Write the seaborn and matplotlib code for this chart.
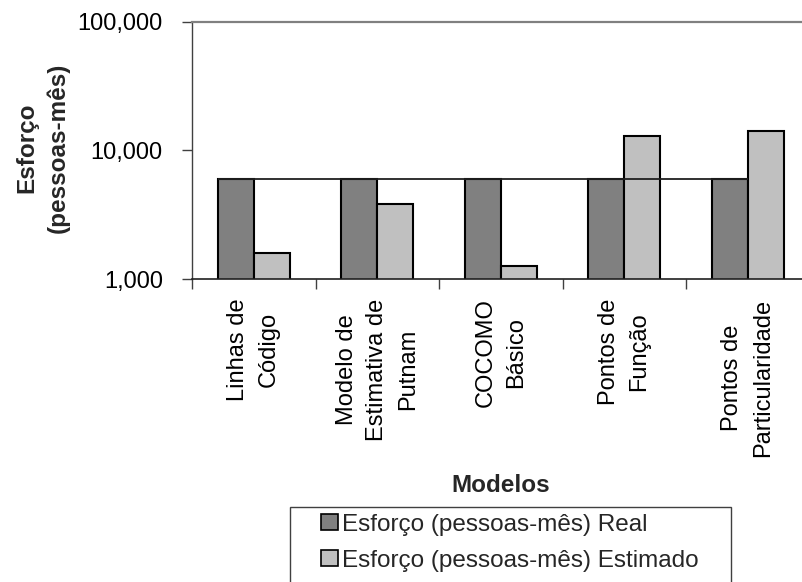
import matplotlib
matplotlib.use("Agg")
import matplotlib.pyplot as plt
import seaborn as sns
import pandas as pd
from matplotlib.patches import Patch, Rectangle
from matplotlib.ticker import FixedLocator, FixedFormatter, NullLocator

# ---- data ----
categories = ["Linhas de\nCódigo", "Modelo de\nEstimativa de\nPutnam", "COCOMO\nBásico",
              "Pontos de\nFunção", "Pontos de\nParticularidade"]
real = [6000, 6000, 6000, 6000, 6000]
estimado = [1600, 3830, 1260, 12900, 14200]
series = ["Esforço (pessoas-mês) Real", "Esforço (pessoas-mês) Estimado"]
colors = ["#808080", "#C0C0C0"]
yticks = [1000, 10000, 100000]
ytick_labels = ["1,000", "10,000", "100,000"]

df = pd.DataFrame({
    "Modelo": categories * 2,
    "Série": [series[0]] * len(categories) + [series[1]] * len(categories),
    "Esforço": real + estimado,
})

sns.set_theme(style="white")
plt.rcParams["font.family"] = ["Liberation Sans", "DejaVu Sans"]
FS_TICK = 17
FS_LAB = 17.5

fig = plt.figure(figsize=(8.02, 5.82), dpi=100)
ax = fig.add_axes([192 / 802, 1 - 279 / 582, 617.5 / 802, 257.3 / 582])

sns.barplot(data=df, x="Modelo", y="Esforço", hue="Série", order=categories,
            hue_order=series, palette=colors, saturation=1, width=0.58,
            edgecolor="black", linewidth=1.5, legend=False, ax=ax)
ax.set_yscale("log")
ax.set_ylim(yticks[0], yticks[-1])
ax.set_xlim(-0.5, len(categories) - 0.5)

# line across the tops of the "Real" bars
real_bars = ax.containers[0]
x0 = min(p.get_x() for p in real_bars)
x1 = max(p.get_x() + p.get_width() for p in real_bars)
ax.hlines(real[0], x0, x1, color="#202020", lw=1.3, zorder=3)

# y axis
ax.yaxis.set_major_locator(FixedLocator(yticks))
ax.yaxis.set_major_formatter(FixedFormatter(ytick_labels))
ax.yaxis.set_minor_locator(NullLocator())
ax.tick_params(axis="y", which="major", left=True, direction="out", length=7,
               width=1, color="#404040", labelsize=FS_TICK, labelcolor="black", pad=14)

# x axis: labels at category centers, ticks at boundaries
ax.set_xticks(range(len(categories)))
ax.set_xticklabels(categories, rotation=90, ha="center", va="top")
for lab in ax.get_xticklabels():
    lab.set_multialignment("center")
    lab.set_linespacing(1.5)
ax.set_xticks([i - 0.5 for i in range(len(categories) + 1)], minor=True)
ax.tick_params(axis="x", which="major", bottom=True, length=0, labelsize=FS_TICK,
               labelcolor="black", pad=14)
ax.tick_params(axis="x", which="minor", bottom=True, direction="out", length=7,
               width=1, color="#404040")

ax.spines["left"].set_color("#404040")
ax.spines["left"].set_linewidth(1)
ax.spines["bottom"].set_color("#202020")
ax.spines["bottom"].set_linewidth(1.2)
ax.spines["top"].set_color("#808080")
ax.spines["top"].set_linewidth(1.6)
ax.spines["right"].set_visible(False)

ax.set_xlabel("Modelos", fontsize=FS_LAB, fontweight="bold")
ax.xaxis.label.set_va("baseline")
ax.xaxis.set_label_coords(0.5, (279 - 491.7) / 257.3)

ax.set_ylabel("Esforço\n(pessoas-mês)", fontsize=FS_LAB, fontweight="bold")
ax.yaxis.label.set_va("center")
ax.yaxis.label.set_multialignment("center")
ax.yaxis.label.set_linespacing(1.45)
ax.yaxis.set_label_coords((42.5 - 192) / 617.5, (279 - 147.5) / 257.3)

# legend
handles = [Patch(facecolor=c, edgecolor="black", linewidth=1.2) for c in colors]
fig.legend(handles, series, loc="upper left", bbox_to_anchor=(321 / 802, 1 - 513.5 / 582),
           frameon=False, fontsize=FS_LAB, handlelength=0.68, handleheight=0.65,
           handletextpad=0.2, borderpad=0, borderaxespad=0, labelspacing=0.58)
fig.add_artist(Rectangle((290 / 802, -0.03), (731 - 290) / 802, 1 - 506.7 / 582 + 0.03,
                         transform=fig.transFigure, fill=False, edgecolor="#404040", lw=1))

fig.savefig("out.png", dpi=100)
